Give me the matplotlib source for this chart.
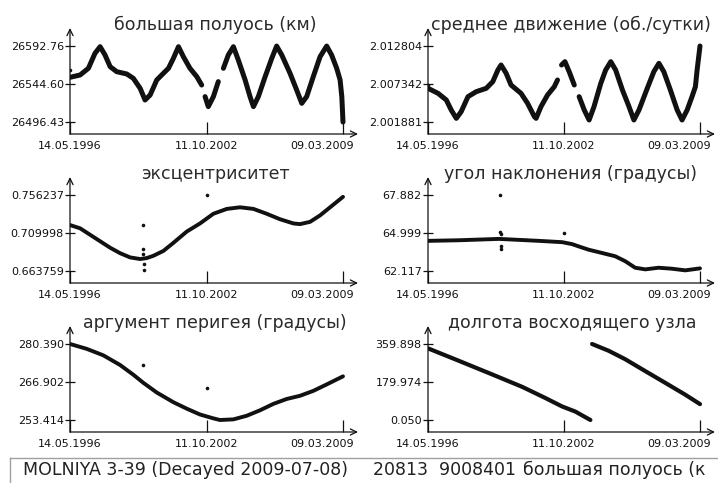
import numpy as np
import matplotlib.pyplot as plt
from matplotlib.transforms import ScaledTranslation

nan = np.nan

# time axis: fractional years, first and last observation
T0, T1 = 1996.366, 2009.186
date_labels = ['14.05.1996', '11.10.2002', '09.03.2009']

# большая полуось (км)
t_sma = [1996.37, 1996.84, 1997.23, 1997.54, 1997.78, 1998.01, 1998.25, 1998.56,
         1999.03, 1999.34, 1999.66, 1999.89, 2000.13, 2000.44, 2000.75, 2000.99,
         2001.22, 2001.46, 2001.69, 2002.00, 2002.32, 2002.55, nan,
         2002.71, 2002.86, 2003.10, 2003.33, nan,
         2003.57, 2003.80, 2004.04, 2004.27, 2004.59, 2004.82, 2004.98, 2005.21,
         2005.53, 2005.84, 2006.07, 2006.31, 2006.70, 2007.01, 2007.25, 2007.48,
         2007.79, 2008.11, 2008.42, 2008.65, 2008.89, 2009.05, 2009.13, 2009.186]
v_sma = [26553.1, 26556.0, 26564.5, 26583.5, 26591.9, 26581.4, 26566.6, 26560.2,
         26557.3, 26551.8, 26539.1, 26524.3, 26530.7, 26549.7, 26558.1, 26564.5,
         26577.1, 26591.9, 26579.2, 26564.5, 26553.9, 26543.3, nan,
         26528.6, 26515.9, 26528.6, 26547.6, nan,
         26564.5, 26581.4, 26591.9, 26575.0, 26549.7, 26528.6, 26515.9, 26528.6,
         26553.9, 26577.1, 26592.7, 26581.4, 26558.1, 26537.0, 26520.1, 26528.6,
         26553.9, 26579.2, 26592.7, 26581.4, 26564.5, 26549.7, 26528.6, 26496.43]
t_sma_pts = [1996.37]
v_sma_pts = [26562.4]
sma_ticks = [26496.43, 26544.60, 26592.76]

# среднее движение (об./сутки)
t_mm = [1996.37, 1996.84, 1997.23, 1997.46, 1997.70, 1997.93, 1998.25, 1998.64,
        1999.11, 1999.42, 1999.66, 1999.81, 2000.05, 2000.28, 2000.75, 2001.06,
        2001.38, 2001.46, 2001.69, 2002.00, 2002.32, 2002.47, nan,
        2002.66, 2002.82, 2003.02, 2003.26, nan,
        2003.49, 2003.73, 2003.96, 2004.19, 2004.51, 2004.74, 2004.98, 2005.21,
        2005.53, 2005.84, 2006.07, 2006.31, 2006.70, 2007.01, 2007.25, 2007.48,
        2007.79, 2008.11, 2008.34, 2008.58, 2008.81, 2008.97, 2009.05, 2009.186]
v_mm = [2.006719, 2.006001, 2.005043, 2.003605, 2.002408, 2.003366, 2.005522, 2.006240,
        2.006720, 2.007678, 2.009355, 2.010073, 2.008875, 2.007199, 2.006001, 2.004564,
        2.002647, 2.002408, 2.004085, 2.005762, 2.006959, 2.007918, nan,
        2.010073, 2.010552, 2.009115, 2.007199, nan,
        2.005522, 2.003605, 2.002168, 2.004085, 2.007438, 2.009355, 2.010552, 2.009355,
        2.006480, 2.004085, 2.002168, 2.003605, 2.006720, 2.009115, 2.010313, 2.009115,
        2.006480, 2.003605, 2.002168, 2.003605, 2.005522, 2.006959, 2.009355, 2.012804]
t_mm_pts = [1996.37]
v_mm_pts = [2.007199]
mm_ticks = [2.001881, 2.007342, 2.012804]

# эксцентриситет
t_ecc = [1996.37, 1996.84, 1997.31, 1997.78, 1998.25, 1998.72, 1999.19, 1999.66,
         1999.97, 2000.28, 2000.75, 2001.22, 2001.85, 2002.47, 2003.10, 2003.73,
         2004.35, 2004.98, 2005.60, 2006.23, 2006.86, 2007.17, 2007.64, 2008.11,
         2008.58, 2009.186]
v_ecc = [0.71964, 0.71571, 0.70784, 0.69997, 0.69210, 0.68541, 0.68029, 0.67832,
         0.67950, 0.68226, 0.68816, 0.69800, 0.71177, 0.72161, 0.73342, 0.73932,
         0.74128, 0.73932, 0.73342, 0.72673, 0.72161, 0.72082, 0.72358, 0.73145,
         0.74128, 0.75400]
t_ecc_pts = [1999.78, 1999.78, 1999.80, 1999.82, 1999.82, 2002.82]
v_ecc_pts = [0.71964, 0.69092, 0.68500, 0.67200, 0.66500, 0.75624]
ecc_ticks = [0.663759, 0.709998, 0.756237]

# угол наклонения (градусы)
t_inc = [1996.37, 1997.83, 1999.71, 2000.65, 2001.59, 2002.69, 2003.16, 2003.47,
         2003.94, 2004.57, 2005.19, 2005.66, 2006.13, 2006.61, 2007.23, 2007.86,
         2008.49, 2009.186]
v_inc = [64.403, 64.45, 64.552, 64.478, 64.403, 64.304, 64.155, 63.981,
         63.732, 63.484, 63.235, 62.862, 62.365, 62.241, 62.365, 62.291,
         62.166, 62.316]
t_inc_pts = [1999.76, 1999.78, 1999.80, 1999.80, 1999.82, 2002.76]
v_inc_pts = [67.882, 65.099, 64.90, 63.98, 63.81, 65.00]
inc_ticks = [62.117, 64.999, 67.882]

# аргумент перигея (градусы)
t_aop = [1996.37, 1997.15, 1997.93, 1998.72, 1999.34, 1999.81, 2000.44, 2001.22,
         2001.85, 2002.47, 2003.10, 2003.41, 2004.04, 2004.66, 2005.29, 2005.92,
         2006.54, 2007.17, 2007.79, 2008.42, 2009.186]
v_aop = [280.39, 278.67, 276.37, 272.93, 269.48, 266.61, 263.17, 259.73,
         257.43, 255.37, 253.99, 253.41, 253.64, 254.91, 256.86, 259.15,
         260.87, 262.02, 263.75, 266.04, 268.91]
t_aop_pts = [1999.78, 2002.79]
v_aop_pts = [272.93, 264.89]
aop_ticks = [253.414, 266.902, 280.390]

# долгота восходящего узла
t_raan = [1996.37, 1997.83, 1999.39, 2000.81, 2001.90, 2002.69, 2003.31, 2004.02, nan,
          2004.10, 2004.88, 2005.66, 2006.60, 2007.55, 2008.49, 2009.186]
v_raan = [339.1, 279.9, 215.9, 156.8, 104.0, 64.0, 40.0, 0.05, nan,
          359.9, 327.9, 287.9, 231.9, 175.9, 120.0, 75.2]
raan_ticks = [0.050, 179.974, 359.898]

W, H = 718, 483
fig = plt.figure(figsize=(W / 100, H / 100), dpi=100)
fig.patch.set_facecolor('white')

INK = '#111111'


def panel(left, data_right, right, row, title, title_x,
          t, v, tp, vp, ticks, fmt, lw):
    axis_y = 134 + 149 * row
    top = 28 + 149 * row
    data_top = 46 + 149 * row
    data_bot = 122 + 149 * row
    ax = fig.add_axes([left / W, 1 - axis_y / H,
                       (right - left) / W, (axis_y - top) / H])
    ymin, ymax = ticks[0], ticks[-1]
    span = (ymax - ymin) / (data_bot - data_top)
    ax.set_ylim(ymin - span * (axis_y - data_bot), ymax + span * (data_top - top))
    ax.set_xlim(T0, T0 + (T1 - T0) * (right - left) / (data_right - left))
    ax.plot(t, v, color=INK, lw=lw, solid_capstyle='round', solid_joinstyle='round')
    if tp:
        ax.plot(tp, vp, 'o', color=INK, ms=2.6, mew=0)
    for s in ax.spines.values():
        s.set_visible(False)
    ax.set_facecolor('none')
    arrow = dict(arrowstyle='->,head_length=0.45,head_width=0.22', lw=0.9,
                 color=INK, shrinkA=0, shrinkB=0)
    ax.annotate('', xy=(1, 0), xytext=(0, 0), xycoords='axes fraction', arrowprops=arrow)
    ax.annotate('', xy=(0, 1), xytext=(0, 0), xycoords='axes fraction', arrowprops=arrow)
    ax.set_yticks(ticks)
    ax.set_yticklabels([fmt.format(x) for x in ticks])
    ax.set_xticks([T0, (T0 + T1) / 2, T1])
    ax.set_xticklabels(date_labels)
    ax.tick_params(axis='y', direction='inout', length=7, width=0.9, pad=1,
                   labelsize=8, colors=INK)
    ax.tick_params(axis='x', direction='in', length=9, width=0.9, pad=5,
                   labelsize=8, colors=INK)
    last = ax.get_xticklabels()[-1]
    last.set_horizontalalignment('right')
    last.set_transform(last.get_transform() +
                       ScaledTranslation(11 / 100, 0, fig.dpi_scale_trans))
    fig.text(title_x / W, 1 - (25 + 149 * row) / H, title, ha='center', va='center',
             fontsize=12.5, color='#2a2a2a')
    return ax


panel(70, 343, 358, 0, 'большая полуось (км)', 215,
      t_sma, v_sma, t_sma_pts, v_sma_pts, sma_ticks, '{:.2f}', 3.6)
panel(428, 700, 715, 0, 'среднее движение (об./сутки)', 571,
      t_mm, v_mm, t_mm_pts, v_mm_pts, mm_ticks, '{:.6f}', 3.6)
panel(70, 343, 358, 1, 'эксцентриситет', 215,
      t_ecc, v_ecc, t_ecc_pts, v_ecc_pts, ecc_ticks, '{:.6f}', 2.8)
panel(428, 700, 715, 1, 'угол наклонения (градусы)', 570,
      t_inc, v_inc, t_inc_pts, v_inc_pts, inc_ticks, '{:.3f}', 2.8)
panel(70, 343, 358, 2, 'аргумент перигея (градусы)', 215,
      t_aop, v_aop, t_aop_pts, v_aop_pts, aop_ticks, '{:.3f}', 2.8)
panel(428, 700, 715, 2, 'долгота восходящего узла', 572,
      t_raan, v_raan, [], [], raan_ticks, '{:.3f}', 3.0)

# status bar
fig.add_artist(plt.Line2D([10 / W, 10 / W], [0, 1 - 458 / H], color='#a0a0a0', lw=1))
fig.add_artist(plt.Line2D([10 / W, 1], [1 - 458 / H, 1 - 458 / H], color='#a0a0a0', lw=1))
fig.text(23 / W, 1 - 470 / H, 'MOLNIYA 3-39 (Decayed 2009-07-08)',
         fontsize=12.5, va='center', color='#222222')
fig.text(373 / W, 1 - 470 / H, '20813  9008401', fontsize=12.5, va='center', color='#222222')
fig.text(523 / W, 1 - 470 / H, 'большая полуось (к', fontsize=12.5, va='center',
         color='#222222')

fig.savefig('out.png', dpi=100)
